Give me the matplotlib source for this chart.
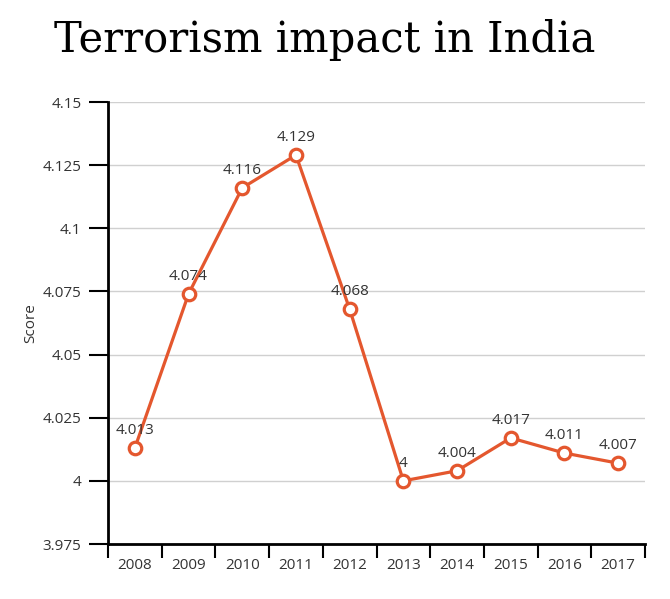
import matplotlib.pyplot as plt
import numpy as np

years = ['2008', '2009', '2010', '2011', '2012', '2013', '2014', '2015', '2016', '2017']
scores = [4.013, 4.074, 4.116, 4.129, 4.068, 4.0, 4.004, 4.017, 4.011, 4.007]
score_labels = ['4.013', '4.074', '4.116', '4.129', '4.068', '4', '4.004', '4.017', '4.011', '4.007']
y_ticks = [3.975, 4.0, 4.025, 4.05, 4.075, 4.1, 4.125, 4.15]
y_tick_labels = ['3.975', '4', '4.025', '4.05', '4.075', '4.1', '4.125', '4.15']

line_color = '#e4572e'
text_color = '#333333'

plt.rcParams['font.family'] = ['Open Sans', 'DejaVu Sans']

fig = plt.figure(figsize=(6.7, 5.99), dpi=100)
ax = fig.add_axes([108 / 670, 1 - 544 / 599, (645 - 108) / 670, (544 - 102) / 599])

x = np.arange(len(years))
ax.plot(x, scores, color=line_color, linewidth=2.3, marker='o', markersize=9,
        markerfacecolor='white', markeredgecolor=line_color, markeredgewidth=2.3, zorder=3)

# value labels above each point
for xi, yi, lab in zip(x, scores, score_labels):
    ax.annotate(lab, (xi, yi), xytext=(0, 7), textcoords='offset points',
                ha='center', va='bottom', fontsize=11, color=text_color)

ax.set_xlim(-0.5, len(years) - 0.5)
ax.set_ylim(3.975, 4.15)

# band boundaries as ticks, labels in the middle of each band
ax.set_xticks(np.arange(-0.5, len(years), 1.0))
ax.set_xticklabels([])
ax.set_xticks(x, minor=True)
ax.set_xticklabels(years, minor=True, fontsize=11, color=text_color)
ax.tick_params(axis='x', which='major', length=10, width=1.5, direction='out', color='black')
ax.tick_params(axis='x', which='minor', length=0, pad=10)

ax.set_yticks(y_ticks)
ax.set_yticklabels(y_tick_labels, fontsize=11, color=text_color)
ax.tick_params(axis='y', length=14, width=1.5, direction='out', color='black', pad=5)

ax.grid(axis='y', color='#d0d0d0', linewidth=1)
ax.set_axisbelow(True)

for side in ['top', 'right']:
    ax.spines[side].set_visible(False)
for side in ['left', 'bottom']:
    ax.spines[side].set_linewidth(2)
    ax.spines[side].set_color('black')

ax.set_ylabel('Score', fontsize=11, color=text_color, labelpad=3)

fig.text(0.484, 1 - 40 / 599, 'Terrorism impact in India', ha='center', va='center',
         fontsize=30, family='DejaVu Serif', color='black')

fig.savefig('out.png', dpi=100)
